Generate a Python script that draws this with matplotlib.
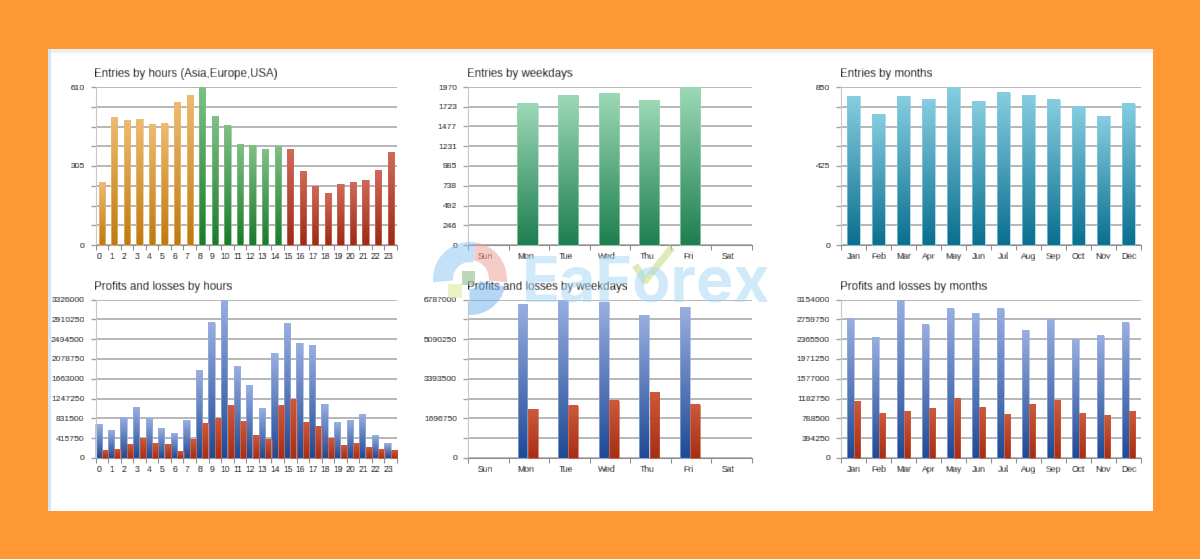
import matplotlib
matplotlib.use("Agg")
import matplotlib.pyplot as plt
import numpy as np
from matplotlib.colors import LinearSegmentedColormap
from matplotlib.patches import Rectangle, Wedge

plt.rcParams["font.family"] = ["Liberation Sans", "DejaVu Sans"]

W, H = 1200, 559

hours = [str(i) for i in range(24)]
weekdays = ["Sun", "Mon", "Tue", "Wed", "Thu", "Fri", "Sat"]
months = ["Jan", "Feb", "Mar", "Apr", "May", "Jun", "Jul", "Aug", "Sep", "Oct", "Nov", "Dec"]

entries_hours = [241, 492, 479, 485, 466, 469, 550, 578, 610, 498, 461, 387,
                 383, 369, 379, 369, 284, 227, 199, 235, 241, 250, 289, 358]
entries_weekdays = [0, 1763, 1866, 1895, 1804, 1970, 0]
entries_months = [800, 703, 800, 784, 850, 773, 818, 805, 782, 744, 692, 759]

profit_hours = [711000, 579000, 858000, 1067000, 837000, 614000, 523000, 795000,
                1827000, 2838000, 3326000, 1911000, 1527000, 1032000, 2196000, 2824000,
                2413000, 2364000, 1130000, 739000, 781000, 906000, 467000, 314000]
loss_hours = [153000, 188000, 286000, 404000, 307000, 286000, 146000, 397000,
              732000, 823000, 1095000, 760000, 474000, 390000, 1095000, 1220000,
              753000, 669000, 418000, 272000, 314000, 230000, 181000, 153000]
profit_weekdays = [0, 6559000, 6787000, 6659000, 6118000, 6445000, 0]
loss_weekdays = [0, 2092000, 2248000, 2461000, 2789000, 2276000, 0]
profit_months = [2770000, 2407000, 3154000, 2651000, 2969000, 2876000,
                 2969000, 2539000, 2757000, 2354000, 2433000, 2691000]
loss_months = [1131000, 879000, 932000, 992000, 1184000, 998000,
               866000, 1065000, 1137000, 879000, 846000, 926000]

ylabels_entries_hours = ["0", "", "", "", "305", "", "", "", "610"]
ylabels_entries_weekdays = ["0", "246", "492", "738", "985", "1231", "1477", "1723", "1970"]
ylabels_entries_months = ["0", "", "", "", "425", "", "", "", "850"]
ylabels_pl_hours = ["0", "415750", "831500", "1247250", "1663000",
                    "2078750", "2494500", "2910250", "3326000"]
ylabels_pl_weekdays = ["0", "", "1696750", "", "3393500", "", "5090250", "", "6787000"]
ylabels_pl_months = ["0", "394250", "788500", "1182750", "1577000",
                     "1971250", "2365500", "2759750", "3154000"]

ORANGE = ("#EDBB70", "#BF7A12")
GREEN = ("#7FC085", "#1C7A2C")
RED = ("#CF6A58", "#9E2A16")
MINT = ("#9CD8B6", "#1E7F50")
TEAL = ("#86CDE0", "#0B6F90")
BLUE = ("#98AEE0", "#1F4A96")
BRICK = ("#CC5A3A", "#A62E16")

TEXT = "#000000"
GRID = "#A3A3A3"


def soften(img, dpi):
    # the source is a blurry screenshot, so text gets a small blur too
    kernel = np.array([0.15, 0.7, 0.15])
    out = img.copy()
    for axis in (0, 1):
        out = sum(k * np.roll(out, s, axis=axis) for k, s in zip(kernel, (-1, 0, 1)))
    return out, 0, 0


def pixel_axes(fig, x0, y0, x1, y1, **kw):
    return fig.add_axes([x0 / W, 1 - y1 / H, (x1 - x0) / W, (y1 - y0) / H], **kw)


def gradient_bars(ax, x, values, width, colors):
    # bars keep their own top-to-bottom fade, clipped from an image
    cmap = LinearSegmentedColormap.from_list("fade", colors)
    grad = np.linspace(0, 1, 64).reshape(-1, 1)
    bars = ax.bar(x, values, width=width, facecolor="none", edgecolor=colors[0],
                  linewidth=0.5, zorder=3, clip_on=False)
    for b in bars:
        if b.get_height() <= 0:
            b.set_visible(False)
            continue
        ax.imshow(grad, cmap=cmap, aspect="auto", zorder=2,
                  extent=(b.get_x(), b.get_x() + b.get_width(), 0, b.get_height()))


def style_axes(ax, title, labels, ymax, ylabels, label_shift=0.0):
    n = len(labels)
    ax.set_xlim(-0.5, n - 0.5)
    ax.set_ylim(0, ymax)
    ax.set_yticks(np.linspace(0, ymax, 9))
    ax.set_yticklabels(ylabels, fontsize=6.1, color=TEXT)
    ax.set_xticks(np.arange(n) + label_shift)
    ax.set_xticklabels(labels, fontsize=6.2, color=TEXT)
    ax.set_xticks(np.arange(n + 1) - 0.5, minor=True)
    ax.tick_params(axis="x", which="major", length=0, pad=5)
    ax.tick_params(axis="x", which="minor", length=3.5, color="#909090", width=0.8)
    ax.tick_params(axis="y", length=3.5, color=GRID, width=1.0, pad=4.5)
    ax.grid(axis="y", color=GRID, linewidth=1.1)
    ax.set_axisbelow(True)
    for s in ("top", "right"):
        ax.spines[s].set_visible(False)
    ax.spines["left"].set_color("#C8C8C8")
    ax.spines["bottom"].set_color("#909090")
    t = ax.set_title(title, loc="left", fontsize=8.3, color=TEXT, pad=7, x=-0.005)
    t.set_agg_filter(soften)
    for lab in ax.get_xticklabels() + ax.get_yticklabels():
        lab.set_agg_filter(soften)


fig = plt.figure(figsize=(W / 100, H / 100), dpi=100, facecolor="#FF9933")

# page behind the charts
bg = pixel_axes(fig, 0, 0, W, H, zorder=-1)
bg.set_xlim(0, W)
bg.set_ylim(H, 0)
bg.axis("off")
bg.add_patch(Rectangle((48, 49), 1105, 462, facecolor="white", edgecolor="none"))
bg.add_patch(Rectangle((48, 49), 1105, 4, facecolor="#EDF0F2", edgecolor="none"))
bg.add_patch(Rectangle((48, 49), 3, 462, facecolor="#D5E6F2", edgecolor="none"))

# top row
ax = pixel_axes(fig, 95.5, 87, 397, 245)
x = np.arange(24)
gradient_bars(ax, x[:8], entries_hours[:8], 0.5, ORANGE)
gradient_bars(ax, x[8:15], entries_hours[8:15], 0.5, GREEN)
gradient_bars(ax, x[15:], entries_hours[15:], 0.5, RED)
style_axes(ax, "Entries by hours (Asia,Europe,USA)", hours, 610, ylabels_entries_hours, -0.2)

ax = pixel_axes(fig, 468, 87, 752, 245)
gradient_bars(ax, np.arange(7) - 0.03, entries_weekdays, 0.5, MINT)
style_axes(ax, "Entries by weekdays", weekdays, 1970, ylabels_entries_weekdays, -0.08)

ax = pixel_axes(fig, 841, 87, 1141, 245)
gradient_bars(ax, np.arange(12), entries_months, 0.52, TEAL)
style_axes(ax, "Entries by months", months, 850, ylabels_entries_months)

# bottom row
ax = pixel_axes(fig, 95.5, 299.5, 397, 458)
x = np.arange(24)
gradient_bars(ax, x - 0.26, profit_hours, 0.5, BLUE)
gradient_bars(ax, x + 0.26, loss_hours, 0.5, BRICK)
style_axes(ax, "Profits and losses by hours", hours, 3326000, ylabels_pl_hours, -0.2)

ax = pixel_axes(fig, 468, 299.5, 752, 458)
x = np.arange(7) - 0.03
gradient_bars(ax, x - 0.125, profit_weekdays, 0.24, BLUE)
gradient_bars(ax, x + 0.125, loss_weekdays, 0.24, BRICK)
style_axes(ax, "Profits and losses by weekdays", weekdays, 6787000, ylabels_pl_weekdays, -0.08)

ax = pixel_axes(fig, 841, 299.5, 1141, 458)
x = np.arange(12)
gradient_bars(ax, x - 0.13, profit_months, 0.26, BLUE)
gradient_bars(ax, x + 0.14, loss_months, 0.26, BRICK)
style_axes(ax, "Profits and losses by months", months, 3154000, ylabels_pl_months)

# watermark on top of everything
wm = pixel_axes(fig, 0, 0, W, H, zorder=10)
wm.set_xlim(0, W)
wm.set_ylim(H, 0)
wm.axis("off")
wm.patch.set_alpha(0)
wm.add_patch(Wedge((470, 279), 37, 175, 280, width=20, facecolor="#8CC4F2", alpha=0.5, lw=0))
wm.add_patch(Wedge((470, 279), 37, 280, 365, width=18, facecolor="#EE9A95", alpha=0.5, lw=0))
wm.add_patch(Wedge((470, 279), 36, 12, 92, width=26, facecolor="#6FAEEE", alpha=0.5, lw=0))
wm.add_patch(Rectangle((462, 271), 13, 14, facecolor="#8FBF8F", alpha=0.6, lw=0))
wm.add_patch(Rectangle((448, 284), 14, 14, facecolor="#DCE89A", alpha=0.6, lw=0))
wm.text(522, 302, "EaForex", fontsize=45, fontweight="bold", family="Inter",
        color="#A5D6F7", alpha=0.5, ha="left", va="baseline")
wm.plot([637, 645, 670], [268, 281, 250], color="#C5DE8A", lw=5, alpha=0.6)

fig.savefig("out.png", dpi=100, facecolor=fig.get_facecolor())
plt.close(fig)
